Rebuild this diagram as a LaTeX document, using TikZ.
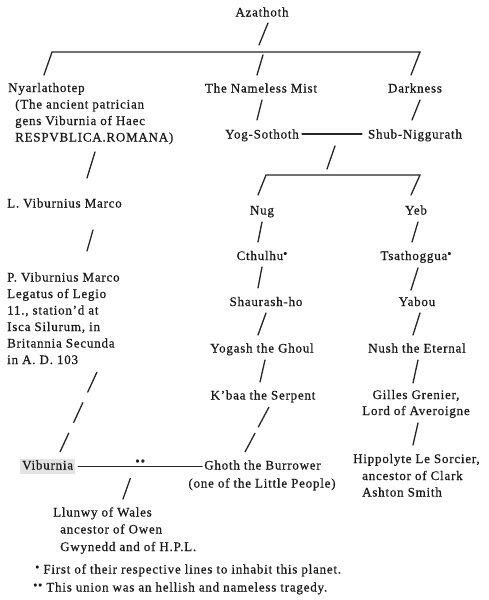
\documentclass[tikz,border=0pt]{standalone}
\usepackage{fontspec}
\setmainfont[LetterSpace=6, FakeBold=0.6]{Liberation Serif}
\usetikzlibrary{calc}
\newcommand{\bul}{\raisebox{2.5pt}{\fontsize{12}{12}\selectfont •}}
\newcommand{\bulbul}{\raisebox{2.5pt}{\fontsize{12}{12}\selectfont ••}}
\begin{document}
\begin{tikzpicture}[x=1pt,y=-1pt,
  lbl/.style={inner sep=0pt, text height=9pt, text depth=3pt, font=\fontsize{13}{16}\selectfont, anchor=base, text=black!90},
  lbll/.style={lbl, anchor=base west},
  ln/.style={line width=1.3pt, line cap=round, black!85},
]
\fill[white] (0,0) rectangle (489,600);
\useasboundingbox (0,0) rectangle (489,600);

% --- nodes ---
\node[lbl] (aza) at (262,16.5) {Azathoth};
\node[lbll] (nya) at (8,92) {Nyarlathotep};
\node[lbll] (nyb) at (15,108.5) {(The ancient patrician};
\node[lbll] (nyc) at (15,125) {gens Viburnia of Haec};
\node[lbll] (nyd) at (15,141.5) {RESPVBLICA.ROMANA)};
\node[lbl] (mist) at (261,92.5) {The Nameless Mist};
\node[lbl] (dark) at (415,92.5) {Darkness};
\node[lbl] (yog) at (262,138.5) {Yog-Sothoth};
\node[lbl] (shub) at (415,138.5) {Shub-Niggurath};
\node[lbll] (lvib) at (7,207.5) {L. Viburnius Marco};
\node[lbll] (pv1) at (7,281.5) {P. Viburnius Marco};
\node[lbll] (pv2) at (7,298) {Legatus of Legio};
\node[lbll] (pv3) at (7,314.5) {11., station’d at};
\node[lbll] (pv4) at (7,331) {Isca Silurum, in};
\node[lbll] (pv5) at (7,347.5) {Britannia Secunda};
\node[lbll] (pv6) at (7,364) {in A. D. 103};
\node[lbl] (nug) at (262,214.5) {Nug};
\node[lbl] (yeb) at (416,214.5) {Yeb};
\node[lbl] (cth) at (262,260) {Cthulhu\bul};
\node[lbl] (tsa) at (416,260) {Tsathoggua\bul};
\node[lbl] (shau) at (266,306) {Shaurash-ho};
\node[lbl] (yabou) at (417,306) {Yabou};
\node[lbl] (yogash) at (262,352.5) {Yogash the Ghoul};
\node[lbl] (nush) at (417,352.5) {Nush the Eternal};
\node[lbl] (kbaa) at (263,399.5) {K’baa the Serpent};
\node[lbl] (gilles) at (416,399) {Gilles Grenier,};
\node[lbl] (lord) at (416,415) {Lord of Averoigne};
\node[lbl] (ghoth) at (262.5,469.5) {Ghoth the Burrower};
\node[lbl] (little) at (262,487.5) {(one of the Little People)};
\node[lbll] (hipp) at (353,463) {Hippolyte Le Sorcier,};
\node[lbll] (hanc) at (362,480) {ancestor of Clark};
\node[lbll] (hash) at (362,496.5) {Ashton Smith};
\node[lbll, fill=gray!22, inner xsep=2pt, inner ysep=1.5pt] (vib) at (20,469.5) {Viburnia};
\node[lbll] (ll1) at (53,516.5) {Llunwy of Wales};
\node[lbll] (ll2) at (60,533.5) {ancestor of Owen};
\node[lbll] (ll3) at (60,551) {Gwynedd and of H.P.L.};
\node[lbll] (f1) at (35,573.5) {\bul\ First of their respective lines to inhabit this planet.};
\node[lbll] (f2) at (33,591.5) {\bulbul\ This union was an hellish and nameless tragedy.};

% --- connectors ---
\draw[ln] ($(aza.base)+(6,6.5)$) -- ($(aza.base)+(-3,28.5)$);
\draw[ln] ($(nya.base west)+(36,-17)$) -- ($(nya.base west)+(44,-40)$)
   -- ($(dark.base)+(5,-40.5)$) -- ($(dark.base)+(-4,-17.5)$);
\draw[ln] ($(mist.base)+(2,-37.5)$) -- ($(mist.base)+(-4,-17.5)$);
\draw[ln] ($(mist.base)+(1,7.5)$) -- ($(yog.base)+(-5,-18.5)$);
\draw[ln] ($(dark.base)+(5,7.5)$) -- ($(shub.base)+(-3,-18.5)$);
\draw[ln] ($(yog.base)+(40,-4.5)$) -- ($(shub.base)+(-53,-4.5)$);
\draw[ln] ($(yog.base)+(73,7.5)$) -- ($(nug.base)+(65,-45.5)$);
\draw[ln] ($(nug.base)+(-4,-19.5)$) -- ($(nug.base)+(4,-39.5)$)
   -- ($(yeb.base)+(4,-39.5)$) -- ($(yeb.base)+(-5,-19.5)$);
\draw[ln] ($(nug.base)+(0,7.5)$) -- ($(cth.base)+(-4,-18)$);
\draw[ln] ($(yeb.base)+(2,7.5)$) -- ($(tsa.base)+(-4,-18)$);
\draw[ln] ($(cth.base)+(0,7)$) -- ($(shau.base)+(-8,-18)$);
\draw[ln] ($(tsa.base)+(2,8)$) -- ($(yabou.base)+(-6,-16)$);
\draw[ln] ($(shau.base)+(0,7)$) -- ($(yogash.base)+(-4,-17.5)$);
\draw[ln] ($(yabou.base)+(3,7)$) -- ($(nush.base)+(-4,-17.5)$);
\draw[ln] ($(yogash.base)+(3,7.5)$) -- ($(kbaa.base)+(-3,-17.5)$);
\draw[ln] ($(nush.base)+(1,7.5)$) -- ($(gilles.base)+(-3,-16)$);
\draw[ln, line cap=butt, dash pattern=on 23pt off 6.5pt] ($(kbaa.base)+(6,7.5)$) -- ($(ghoth.base)+(-17.5,-17.5)$);
\draw[ln] ($(lord.base)+(2,8)$) -- ($(hipp.base west)+(60,-18)$);
\draw[ln] ($(nyd.base west)+(80,10.5)$) -- ($(lvib.base west)+(80,-29.5)$);
\draw[ln] ($(lvib.base west)+(86,22.5)$) -- ($(pv1.base west)+(80,-30.5)$);
\draw[ln, line cap=butt, dash pattern=on 22.5pt off 11pt] ($(pv6.base west)+(90,8)$) -- ($(vib.base west)+(40,-17.5)$);
\draw[ln] ($(vib.east)+(3,0)$) -- coordinate[pos=0.42] (uj)
   node[midway, anchor=south, yshift=0.5pt, inner sep=0pt, font=\fontsize{13}{13}\selectfont] (stars) {••}
   ($(ghoth.west)+(-2,0)$);
\draw[ln] ($(uj)+(0,12)$) -- ($(ll1.base west)+(70,-17.5)$);
\end{tikzpicture}
\end{document}
